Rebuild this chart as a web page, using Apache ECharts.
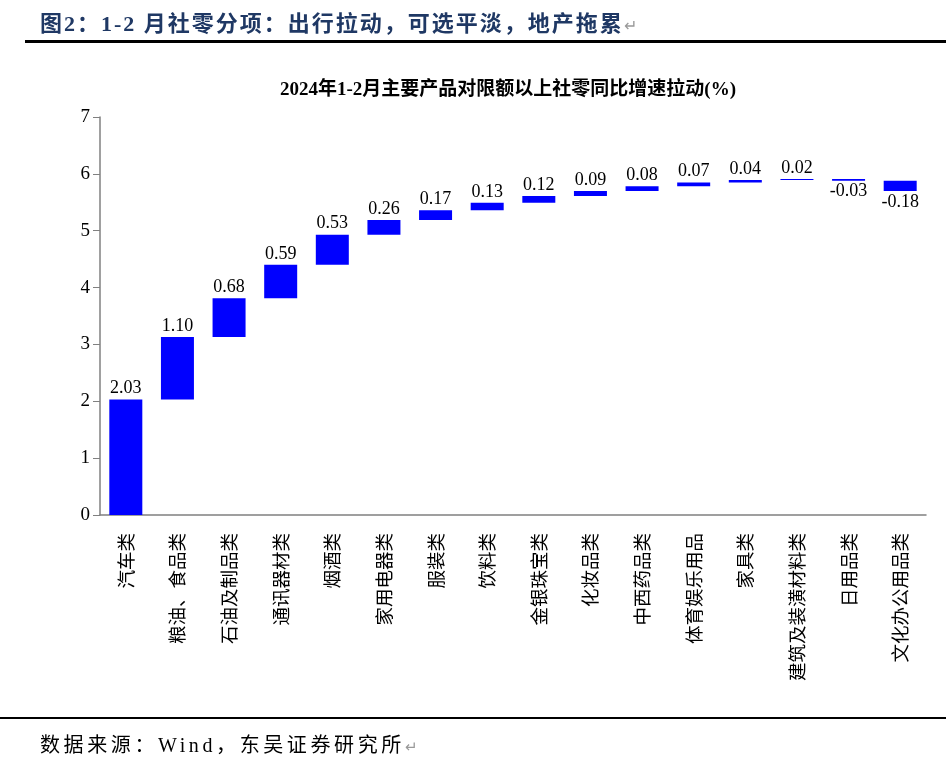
<!DOCTYPE html>
<html><head><meta charset="utf-8">
<script src="https://cdn.jsdelivr.net/npm/echarts@6/dist/echarts.min.js"></script>
<style>
html,body{margin:0;padding:0;background:#fff;}
#wrap{position:relative;width:946px;height:763px;overflow:hidden;}
#hdr{position:absolute;left:40px;top:5px;font-family:"Liberation Serif","Noto Sans CJK SC",serif;font-weight:bold;font-size:22px;color:#1F3864;white-space:nowrap;letter-spacing:2px;}
#hdr .ret{color:#999;font-weight:normal;font-size:16px;letter-spacing:0;}
#topline{position:absolute;left:25px;right:0;top:40px;height:3px;background:#000;}
#botline{position:absolute;left:0;right:0;top:717px;height:2px;background:#000;}
#ftr{position:absolute;left:40px;top:729px;font-family:"Liberation Serif","Noto Sans CJK SC",serif;font-size:20px;color:#000;white-space:nowrap;letter-spacing:3.6px;}
#ftr .ret{color:#999;font-size:15px;letter-spacing:0;}
#chart{position:absolute;left:0;top:0;width:946px;height:763px;}
</style></head>
<body><div id="wrap">
<div id="chart"></div>
<div id="hdr">图2：1-2 月社零分项：出行拉动，可选平淡，地产拖累<span class="ret">↵</span></div>
<div id="topline"></div>
<div id="botline"></div>
<div id="ftr">数据来源：Wind，东吴证券研究所<span class="ret">↵</span></div>
</div>
<script>
var categories = ["汽车类","粮油、食品类","石油及制品类","通讯器材类","烟酒类","家用电器类","服装类","饮料类","金银珠宝类","化妆品类","中西药品类","体育娱乐用品","家具类","建筑及装潢材料类","日用品类","文化办公用品类"];
var values = [2.03,1.10,0.68,0.59,0.53,0.26,0.17,0.13,0.12,0.09,0.08,0.07,0.04,0.02,-0.03,-0.18];
var yTicks = [0,1,2,3,4,5,6,7];

var base = [], vis = [], cum = 0;
values.forEach(function(v){
  var next = +(cum + v).toFixed(4);
  base.push(Math.min(cum, next));
  vis.push({value: Math.abs(v), raw: v});
  cum = next;
});

var chart = echarts.init(document.getElementById('chart'));
chart.setOption({
  animation:false,
  title:{text:'2024年1-2月主要产品对限额以上社零同比增速拉动(%)',left:503,top:76,textAlign:'center',
    textStyle:{fontFamily:'Liberation Serif, Noto Sans CJK SC, serif',fontWeight:'bold',fontSize:19,color:'#000'}},
  grid:{left:100,right:20,top:117,bottom:248,containLabel:false},
  xAxis:{type:'category',data:categories,
    axisLine:{lineStyle:{color:'#808080',width:1.5}},axisTick:{show:false},
    axisLabel:{rotate:90,interval:0,margin:18,fontSize:18.5,color:'#000',fontFamily:'Noto Sans CJK SC, sans-serif'}},
  yAxis:{type:'value',min:0,max:7,interval:1,
    axisLine:{show:true,lineStyle:{color:'#808080',width:1.5}},
    axisTick:{show:true,length:7,inside:false,lineStyle:{color:'#808080'}},
    splitLine:{show:false},
    axisLabel:{margin:10,fontSize:19,color:'#000',fontFamily:'Liberation Serif, serif',
      formatter:function(v){return yTicks.indexOf(v)>=0?String(v):'';}}},
  series:[
    {type:'bar',stack:'w',data:base,barWidth:33,itemStyle:{color:'rgba(0,0,0,0)'},silent:true},
    {type:'bar',stack:'w',barWidth:33,
      data:vis.map(function(d){
        return {value:d.value,label:{show:true,position:d.raw<0?'bottom':'top',distance:2,
          formatter:d.raw.toFixed(2),fontSize:18,color:'#000',fontFamily:'Liberation Serif, serif'}};
      }),
      itemStyle:{color:'#0000FF'}}
  ]
});
</script>
</body></html>
